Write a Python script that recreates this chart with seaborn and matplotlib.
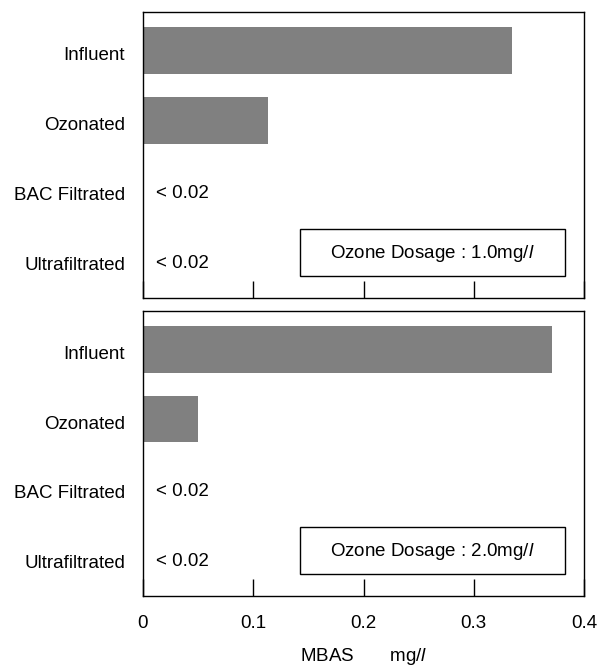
import matplotlib
matplotlib.use("Agg")
import matplotlib.pyplot as plt
import matplotlib.transforms as mtransforms
from matplotlib.patches import Rectangle
import seaborn as sns
import pandas as pd

categories = ["Influent", "Ozonated", "BAC Filtrated", "Ultrafiltrated"]
mbas_dose1 = [0.335, 0.113, 0.0, 0.0]
mbas_dose2 = [0.371, 0.050, 0.0, 0.0]
below_limit = [None, None, "< 0.02", "< 0.02"]
dose_labels = ["Ozone Dosage : 1.0mg/$\\mathit{l}$", "Ozone Dosage : 2.0mg/$\\mathit{l}$"]
xticks = [0, 0.1, 0.2, 0.3, 0.4]
xticklabels = ["0", "0.1", "0.2", "0.3", "0.4"]

sns.set_style("white")
plt.rcParams["font.family"] = ["Liberation Sans", "DejaVu Sans"]
plt.rcParams["mathtext.fontset"] = "custom"
plt.rcParams["mathtext.it"] = "Liberation Sans:italic"
plt.rcParams["mathtext.rm"] = "Liberation Sans"
plt.rcParams["text.color"] = "black"
plt.rcParams["xtick.color"] = "black"
plt.rcParams["ytick.color"] = "black"
plt.rcParams["axes.labelcolor"] = "black"

FS = 13.5
fig = plt.figure(figsize=(6.08, 6.66), dpi=100)
W, H = 608, 666
ax_top = fig.add_axes([143 / W, 1 - 298 / H, 441 / W, 286 / H])
ax_bot = fig.add_axes([143 / W, 1 - 596 / H, 441 / W, 285 / H])
shift = mtransforms.ScaledTranslation(0, -3 / 100, fig.dpi_scale_trans)

for ax, vals, label in [(ax_top, mbas_dose1, dose_labels[0]), (ax_bot, mbas_dose2, dose_labels[1])]:
    df = pd.DataFrame({"cat": categories, "val": vals})
    sns.barplot(data=df, x="val", y="cat", orient="h", color="#808080",
                width=0.67, ax=ax, saturation=1, edgecolor="none")
    ax.set_xlim(0, 0.4)
    ax.set_ylim(3.54, -0.55)
    ax.set_xlabel("")
    ax.set_ylabel("")
    ax.set_xticks(xticks)
    ax.tick_params(axis="x", direction="in", length=12, width=1, color="black",
                   bottom=True, labelsize=FS, pad=14, labelcolor="black")
    ax.tick_params(axis="y", length=0, labelsize=FS, pad=13, labelcolor="black")
    for lab in ax.get_yticklabels():
        lab.set_transform(lab.get_transform() + shift)
    for s in ax.spines.values():
        s.set_visible(True)
        s.set_color("black")
        s.set_linewidth(1)
    for i, t in enumerate(below_limit):
        if t:
            ax.text(0.012, i, t, va="center", ha="left", fontsize=FS,
                    color="black", transform=ax.transData + shift)
    ax.add_patch(Rectangle((0.142, 2.55), 0.241, 0.67, fc="white", ec="black", lw=1, zorder=3))
    ax.text(0.262, 2.9, label, ha="center", va="center", fontsize=FS, color="black", zorder=4)

ax_top.set_xticklabels([])
ax_bot.set_xticklabels(xticklabels)
fig.text(0.5 * (143 + 584) / W, 1 - 661 / H, "MBAS       mg/$\\mathit{l}$",
         ha="center", va="baseline", fontsize=FS, color="black")

fig.savefig("out.png", dpi=100)
